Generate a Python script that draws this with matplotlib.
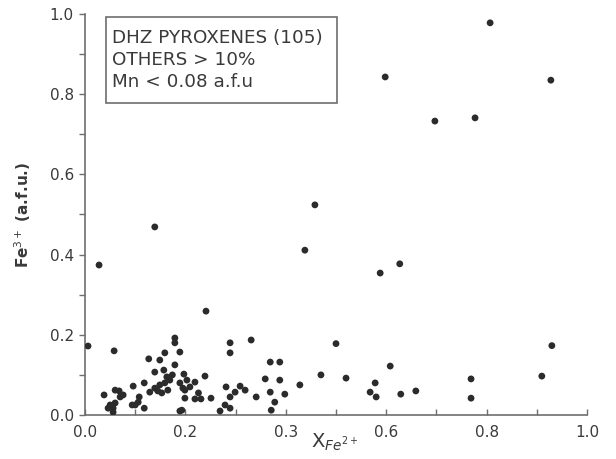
import matplotlib
matplotlib.use("Agg")
import matplotlib.pyplot as plt
from matplotlib.patches import Rectangle
from matplotlib.ticker import FixedLocator, FixedFormatter, MultipleLocator

# Data: X_Fe2+ (x) and Fe3+ (a.f.u.) (y)
x_fe2 = [0.006, 0.028, 0.139, 0.241, 0.331, 0.807, 0.598, 0.928, 0.697, 0.777,
         0.458, 0.438, 0.588, 0.627, 0.500, 0.930, 0.470, 0.520, 0.608, 0.578,
         0.568, 0.580, 0.629, 0.659, 0.769, 0.769, 0.910, 0.428,
         0.369, 0.388, 0.359, 0.388, 0.369, 0.398, 0.378, 0.371, 0.341, 0.289,
         0.289, 0.281, 0.309, 0.319, 0.299, 0.289, 0.279, 0.289, 0.269, 0.251,
         0.231, 0.219, 0.199, 0.239, 0.219, 0.197, 0.189, 0.193, 0.209, 0.199,
         0.058, 0.038, 0.050, 0.056, 0.046, 0.056, 0.068, 0.076, 0.096, 0.094,
         0.100, 0.108, 0.106, 0.118, 0.118, 0.127, 0.139, 0.149, 0.159, 0.179,
         0.179, 0.179, 0.157, 0.163, 0.129, 0.139, 0.149, 0.159, 0.169, 0.153,
         0.165, 0.189, 0.195, 0.203, 0.189, 0.070, 0.060, 0.174, 0.145, 0.226,
         0.060]
fe3 = [0.172, 0.374, 0.469, 0.259, 0.187, 0.978, 0.843, 0.835, 0.733, 0.741,
       0.524, 0.411, 0.354, 0.377, 0.178, 0.173, 0.100, 0.092, 0.122, 0.080,
       0.057, 0.045, 0.052, 0.060, 0.090, 0.042, 0.097, 0.075,
       0.132, 0.132, 0.090, 0.087, 0.057, 0.052, 0.032, 0.012, 0.045, 0.180,
       0.155, 0.070, 0.072, 0.062, 0.057, 0.045, 0.025, 0.017, 0.010, 0.042,
       0.040, 0.040, 0.042, 0.097, 0.082, 0.102, 0.157, 0.012, 0.070, 0.062,
       0.160, 0.050, 0.025, 0.017, 0.017, 0.007, 0.060, 0.050, 0.072, 0.025,
       0.025, 0.045, 0.032, 0.017, 0.080, 0.140, 0.107, 0.137, 0.155, 0.192,
       0.180, 0.125, 0.112, 0.095, 0.057, 0.067, 0.075, 0.080, 0.087, 0.055,
       0.062, 0.080, 0.067, 0.087, 0.010, 0.045, 0.062, 0.100, 0.060, 0.055,
       0.030]

x_ticks = [0.0, 0.2, 0.4, 0.6, 0.8, 1.0]
x_tick_labels = ["0.0", "0.2", "0.3", "0.6", "0.8", "1.0"]
y_ticks = [0.0, 0.2, 0.4, 0.6, 0.8, 1.0]
y_tick_labels = ["0.0", "0.2", "0.4", "0.6", "0.8", "1.0"]

legend_lines = ["DHZ PYROXENES (105)", "OTHERS > 10%", "Mn < 0.08 a.f.u"]

plt.rcParams['font.family'] = ['DejaVu Sans']
axis_col = "#6e6e6e"
text_col = "#3a3a3a"

fig = plt.figure(figsize=(6.16, 4.59), dpi=100)
ax = fig.add_axes([85/616, 1 - 415/459, 502/616, 401/459])

ax.scatter(x_fe2, fe3, s=24, color="#2b2b2b", edgecolors="none", zorder=3)

ax.set_xlim(0, 1.0)
ax.set_ylim(0, 1.0)
for s in ["top", "right"]:
    ax.spines[s].set_visible(False)
for s in ["left", "bottom"]:
    ax.spines[s].set_color(axis_col)
    ax.spines[s].set_linewidth(1.2)

ax.xaxis.set_major_locator(FixedLocator(x_ticks))
ax.xaxis.set_major_formatter(FixedFormatter(x_tick_labels))
ax.yaxis.set_major_locator(FixedLocator(y_ticks))
ax.yaxis.set_major_formatter(FixedFormatter(y_tick_labels))
ax.xaxis.set_minor_locator(MultipleLocator(0.1))
ax.yaxis.set_minor_locator(MultipleLocator(0.1))

ax.tick_params(axis="x", which="both", direction="in", length=4, width=1,
               color=axis_col, labelsize=11, labelcolor=text_col, pad=7)
ax.tick_params(axis="y", which="both", direction="out", length=4, width=1,
               color=axis_col, labelsize=11, labelcolor=text_col, pad=4)

ax.set_ylabel("Fe$^{3+}$ (a.f.u.)", fontsize=11, color=text_col, fontweight="bold")
ax.yaxis.set_label_coords(-0.104, 0.5)
ax.set_xlabel("X$_{Fe^{2+}}$", fontsize=14, color=text_col)
ax.xaxis.set_label_coords(0.498, -0.042)
ax.xaxis.label.set_va("top")

# legend box
ax.add_patch(Rectangle((21/502, (415-103)/401), (337-106)/502, (103-17)/401,
                       transform=ax.transAxes, facecolor="white",
                       edgecolor=axis_col, linewidth=1.2, clip_on=False, zorder=4))
ax.text(27/502, (415-29)/401, "\n".join(legend_lines), transform=ax.transAxes,
        ha="left", va="top", fontsize=13.2, color=text_col, linespacing=1.3,
        zorder=5)

fig.savefig("out.png", dpi=100)
